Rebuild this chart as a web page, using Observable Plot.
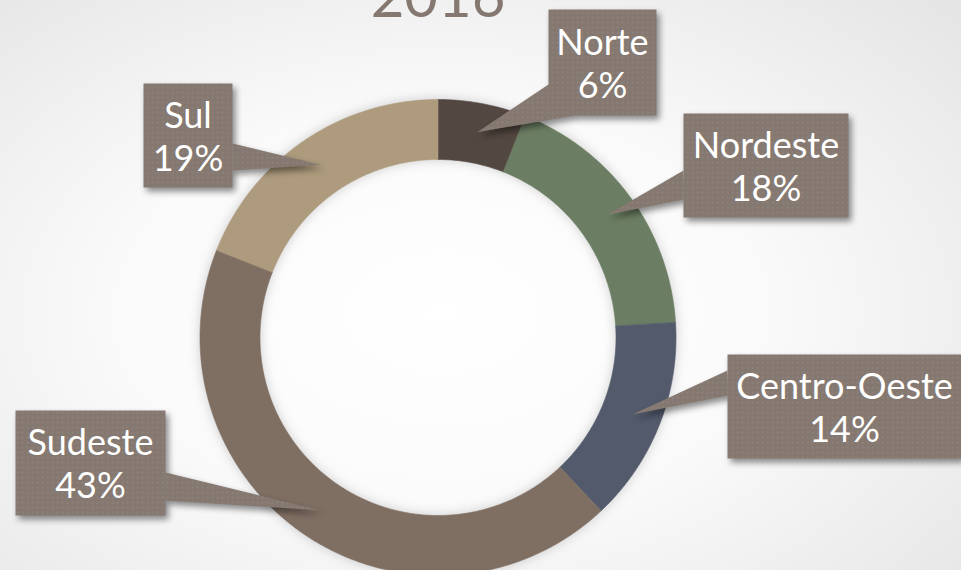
<!DOCTYPE html>
<html><head><meta charset="utf-8">
<script src="https://cdn.jsdelivr.net/npm/d3@7"></script>
<script src="https://cdn.jsdelivr.net/npm/@observablehq/plot@0.6"></script>
<style>
html,body{margin:0;padding:0;}
body{width:961px;height:570px;overflow:hidden;background:radial-gradient(ellipse 75% 80% at 46% 55%, #ffffff 0%, #fafafa 45%, #e4e4e4 100%);}
#chart svg{display:block;background:transparent;overflow:hidden;}
g.ring{filter:drop-shadow(0 0 6px rgba(0,0,0,0.18));}
g.callout{filter:drop-shadow(3px 4px 3px rgba(0,0,0,0.45));}
</style></head><body><div id="chart"></div>
<script>
// ---- data ----
const title = "2016";
const regions = ["Norte", "Nordeste", "Centro-Oeste", "Sudeste", "Sul"];
const shares = [6, 18, 14, 43, 19];
const colors = ["#534841", "#6b7e63", "#525a6b", "#7f6f63", "#ae9b7d"];

// ---- layout (pixel space) ----
const W = 961, H = 570;
const cx = 437.5, cy = 337, rOuter = 238, rInner = 178, rTip = 209;
const boxes = [
  {x1: 548, x2: 656, y1: 9,   y2: 115, base: [[548, 84], [574, 115]]},
  {x1: 683, x2: 848, y1: 113, y2: 217, base: [[683, 170], [683, 199]]},
  {x1: 727, x2: 961, y1: 354, y2: 458, base: [[727, 370], [727, 395]]},
  {x1: 15,  x2: 165, y1: 410, y2: 515, base: [[165, 472], [165, 500]]},
  {x1: 143, x2: 232, y1: 83,  y2: 187, base: [[232, 143], [232, 170]]}
];

// ---- geometry derived from data ----
const arcs = d3.pie().sort(null).value(d => d)(shares);
const ringPts = [];
arcs.forEach((a, i) => {
  const n = Math.max(8, Math.ceil((a.endAngle - a.startAngle) / 0.01));
  const pts = [];
  for (let k = 0; k <= n; k++) {
    const t = a.startAngle + (a.endAngle - a.startAngle) * k / n;
    pts.push([cx + rOuter * Math.sin(t), cy - rOuter * Math.cos(t)]);
  }
  for (let k = n; k >= 0; k--) {
    const t = a.startAngle + (a.endAngle - a.startAngle) * k / n;
    pts.push([cx + rInner * Math.sin(t), cy - rInner * Math.cos(t)]);
  }
  pts.forEach(([x, y]) => ringPts.push({region: regions[i], x, y}));
});

const calloutPts = [];
const labels = [];
arcs.forEach((a, i) => {
  const b = boxes[i];
  const mid = (a.startAngle + a.endAngle) / 2;
  const tip = [cx + rTip * Math.sin(mid), cy - rTip * Math.cos(mid)];
  [[b.x1, b.y1], [b.x2, b.y1], [b.x2, b.y2], [b.x1, b.y2]]
    .forEach(([x, y]) => calloutPts.push({key: regions[i] + "-box", x, y}));
  [b.base[0], tip, b.base[1]]
    .forEach(([x, y]) => calloutPts.push({key: regions[i] + "-ptr", x, y}));
  labels.push({x: (b.x1 + b.x2) / 2, y: (b.y1 + b.y2) / 2, text: `${regions[i]}\n${shares[i]}%`});
});

const plot = Plot.plot({
  width: W, height: H,
  margin: 0,
  x: {domain: [0, W], range: [0, W], axis: null},
  y: {domain: [0, H], range: [0, H], axis: null},
  color: {domain: regions, range: colors},
  style: {background: "transparent"},
  marks: [
    Plot.text([title], {x: () => cx, y: () => 16, text: d => d, lineAnchor: "bottom",
      fontSize: 58, fontFamily: "Lato", fill: "#857870"}),
    Plot.line(ringPts, {x: "x", y: "y", z: "region", fill: "region", stroke: "region",
      strokeWidth: 0.6, curve: "linear-closed", className: "ring"}),
    Plot.line(calloutPts, {x: "x", y: "y", z: "key", fill: "url(#dots)", stroke: "none",
      curve: "linear-closed", className: "callout"}),
    Plot.text(labels, {x: "x", y: "y", text: "text", fill: "white", fontSize: 36,
      fontFamily: "Lato", lineHeight: 1.2})
  ]
});

// dotted fill pattern for the callouts
const ns = "http://www.w3.org/2000/svg";
const defs = document.createElementNS(ns, "defs");
defs.innerHTML = `<pattern id="dots" width="5" height="5" patternUnits="userSpaceOnUse">
  <rect width="5" height="5" fill="#857870"/>
  <rect x="1.5" y="1.5" width="1.5" height="1.5" fill="#928780"/></pattern>`;
plot.insertBefore(defs, plot.firstChild);
document.getElementById("chart").appendChild(plot);
</script></body></html>
